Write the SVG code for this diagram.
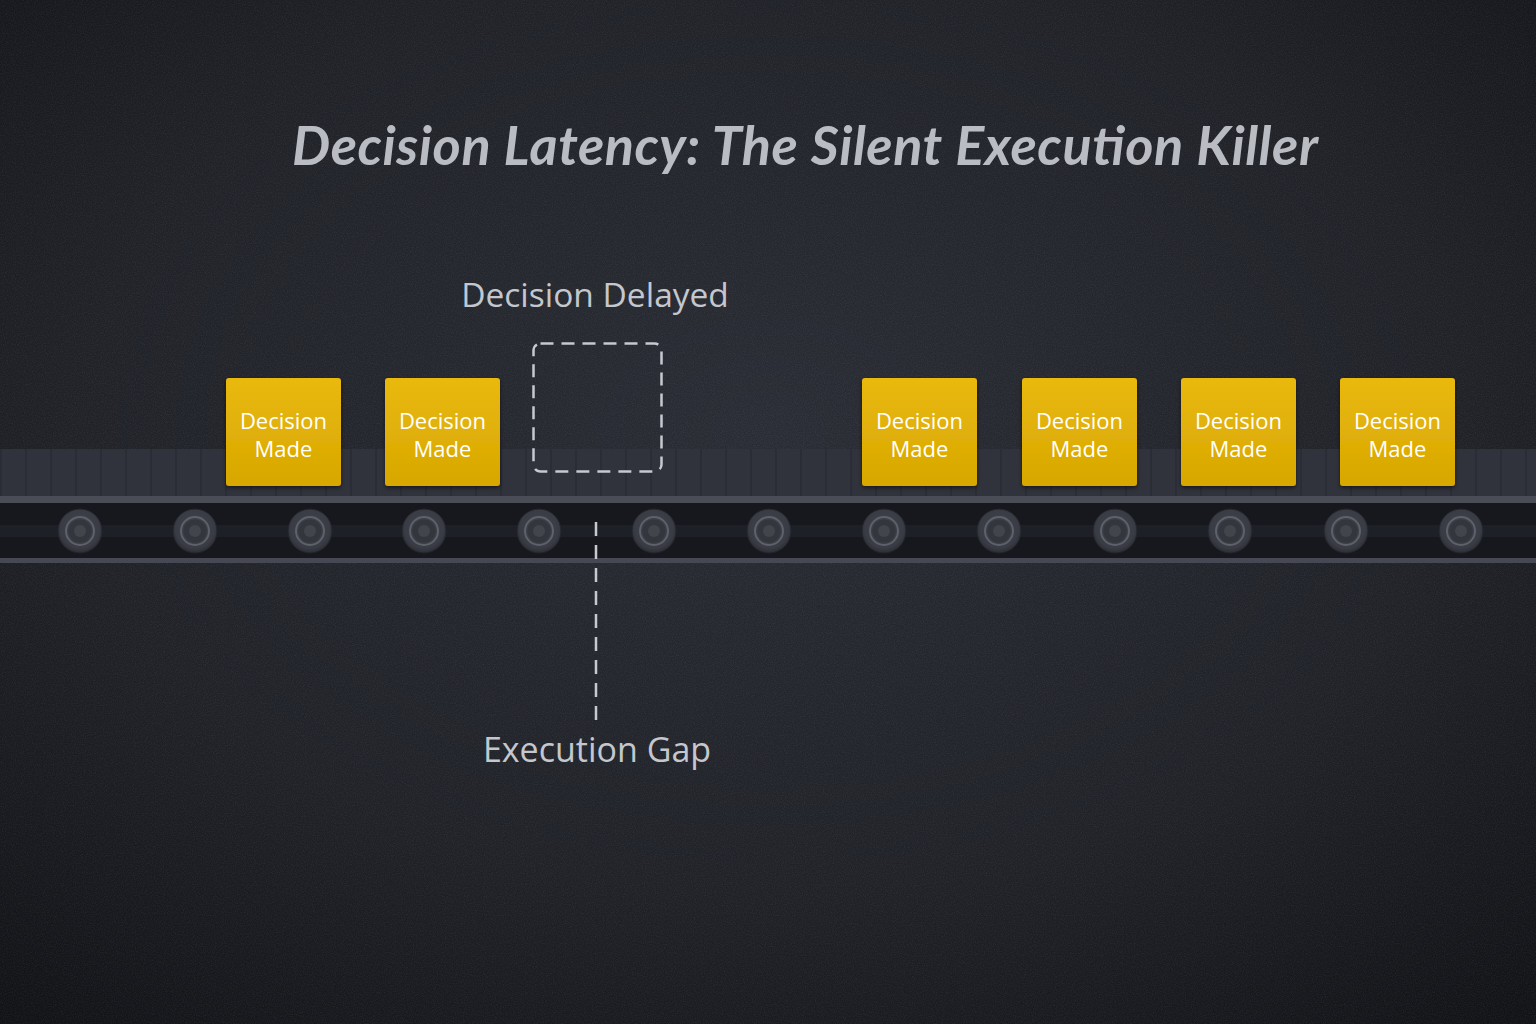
<svg xmlns="http://www.w3.org/2000/svg" width="1536" height="1024" viewBox="0 0 1536 1024">
<defs>
<radialGradient id="bg" cx="50%" cy="42%" r="75%">
<stop offset="0" stop-color="#2a2d35"/>
<stop offset="0.6" stop-color="#202228"/>
<stop offset="1" stop-color="#121317"/>
</radialGradient>
<linearGradient id="box" x1="0" y1="0" x2="0" y2="1">
<stop offset="0" stop-color="#e9b90d"/>
<stop offset="1" stop-color="#d8a702"/>
</linearGradient>
<pattern id="slats" x="0" y="0" width="25" height="50" patternUnits="userSpaceOnUse">
<rect width="25" height="50" fill="#30333c"/>
<rect x="0" width="2" height="50" fill="#2a2d35"/>
</pattern>
<radialGradient id="roll" cx="50%" cy="45%" r="55%">
<stop offset="0" stop-color="#41444c"/>
<stop offset="0.8" stop-color="#393c44"/>
<stop offset="1" stop-color="#2c2e35"/>
</radialGradient>
<filter id="sh" x="-20%" y="-20%" width="140%" height="140%">
<feDropShadow dx="0" dy="2" stdDeviation="2" flood-color="#000" flood-opacity="0.5"/>
</filter>
<filter id="grain" x="0" y="0" width="100%" height="100%">
<feTurbulence type="fractalNoise" baseFrequency="0.9" numOctaves="2" seed="3" result="n"/>
<feColorMatrix type="matrix" values="0 0 0 0 0.6  0 0 0 0 0.62  0 0 0 0 0.66  0 0 0 -1.2 0.75"/>
</filter>
<g id="roller">
<circle r="22" fill="url(#roll)" stroke="#24262c" stroke-width="1"/>
<circle r="14" fill="none" stroke="#5e6169" stroke-width="2"/>
<circle r="11.5" fill="#33363d"/>
<circle r="6" fill="#42454c"/>
</g>
</defs>
<style>
.lbl{font-family:"Open Sans","Noto Sans","Liberation Sans",sans-serif;fill:#c4c7cd}
.box text{font-family:"Open Sans","Noto Sans","Liberation Sans",sans-serif;font-size:22px;fill:#ffffff;text-anchor:middle}
.dash{fill:none;stroke:#c6c9ce;stroke-width:2.5}
</style>
<rect width="1536" height="1024" fill="url(#bg)"/>
<rect width="1536" height="1024" filter="url(#grain)" opacity="0.12"/>

<!-- conveyor -->
<g id="conveyor">
<rect x="0" y="449" width="1536" height="48" fill="url(#slats)"/>
<rect x="0" y="496" width="1536" height="7" fill="#4a4d56"/>
<rect x="0" y="503" width="1536" height="55" fill="#16181e"/>
<rect x="0" y="525" width="1536" height="12" fill="#1e2027"/>
<rect x="0" y="558" width="1536" height="5" fill="#464953"/>
<use href="#roller" x="80" y="531"/>
<use href="#roller" x="195" y="531"/>
<use href="#roller" x="310" y="531"/>
<use href="#roller" x="424" y="531"/>
<use href="#roller" x="539" y="531"/>
<use href="#roller" x="654" y="531"/>
<use href="#roller" x="769" y="531"/>
<use href="#roller" x="884" y="531"/>
<use href="#roller" x="999" y="531"/>
<use href="#roller" x="1115" y="531"/>
<use href="#roller" x="1230" y="531"/>
<use href="#roller" x="1346" y="531"/>
<use href="#roller" x="1461" y="531"/>
</g>

<text x="805" y="165" text-anchor="middle" font-family="Lato,'Open Sans',sans-serif" font-style="italic" font-weight="bold" font-size="54" fill="#b9bcc3" textLength="1026" lengthAdjust="spacing">Decision Latency: The Silent Execution Killer</text>

<g id="box1" class="box"><rect x="226" y="378" width="115" height="108" rx="3" fill="url(#box)" filter="url(#sh)"/><text x="283.5" y="429">Decision</text><text x="283.5" y="457">Made</text></g>
<g id="box2" class="box"><rect x="385" y="378" width="115" height="108" rx="3" fill="url(#box)" filter="url(#sh)"/><text x="442.5" y="429">Decision</text><text x="442.5" y="457">Made</text></g>
<g id="box3" class="box"><rect x="862" y="378" width="115" height="108" rx="3" fill="url(#box)" filter="url(#sh)"/><text x="919.5" y="429">Decision</text><text x="919.5" y="457">Made</text></g>
<g id="box4" class="box"><rect x="1022" y="378" width="115" height="108" rx="3" fill="url(#box)" filter="url(#sh)"/><text x="1079.5" y="429">Decision</text><text x="1079.5" y="457">Made</text></g>
<g id="box5" class="box"><rect x="1181" y="378" width="115" height="108" rx="3" fill="url(#box)" filter="url(#sh)"/><text x="1238.5" y="429">Decision</text><text x="1238.5" y="457">Made</text></g>
<g id="box6" class="box"><rect x="1340" y="378" width="115" height="108" rx="3" fill="url(#box)" filter="url(#sh)"/><text x="1397.5" y="429">Decision</text><text x="1397.5" y="457">Made</text></g>

<g id="delayed">
<rect x="533.5" y="343.5" width="128" height="128" rx="7" class="dash" stroke-dasharray="13 8"/>
<text x="595" y="307" text-anchor="middle" class="lbl" font-size="33.5">Decision Delayed</text>
</g>

<g id="connectors">
<line x1="596" y1="522" x2="596" y2="726" class="dash" stroke-dasharray="14 9"/>
</g>

<g id="gap">
<text x="597" y="762" text-anchor="middle" class="lbl" font-size="34">Execution Gap</text>
</g>
</svg>
